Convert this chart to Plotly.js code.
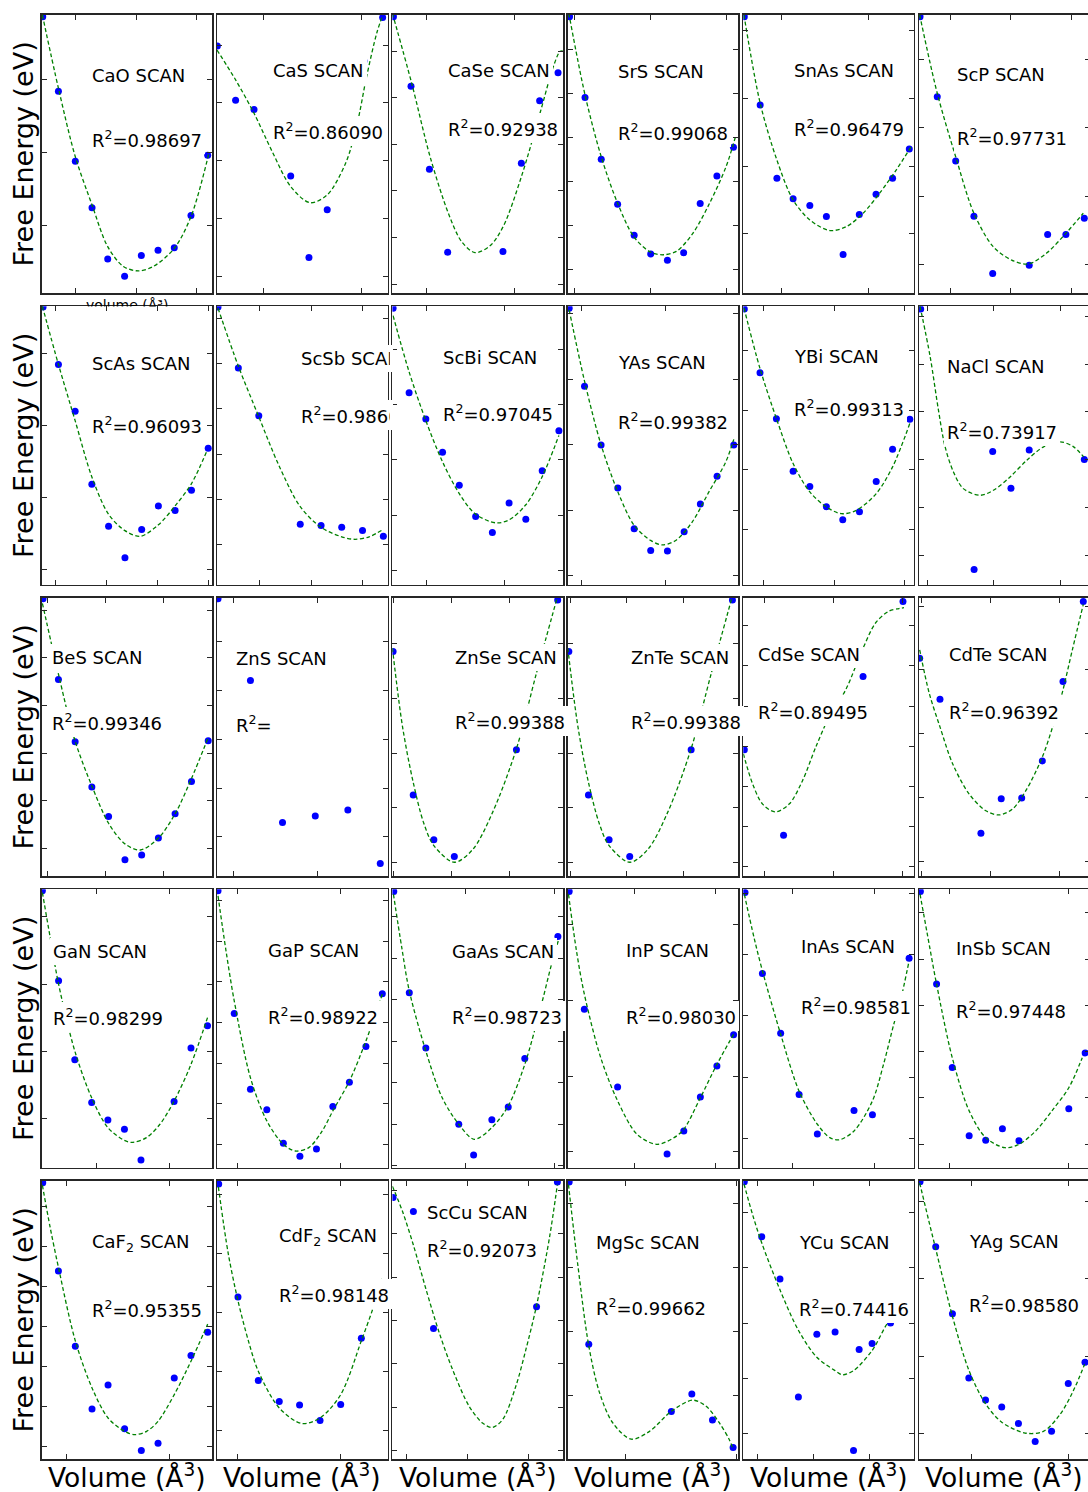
<!DOCTYPE html>
<html><head><meta charset="utf-8">
<script src="https://cdn.plot.ly/plotly-3.0.1.min.js"></script>
<style>html,body{margin:0;padding:0;background:#fff;overflow:hidden;width:1088px;height:1492px}#chart{width:1092px;height:1492px}</style>
</head><body><div id="chart"></div>
<script>
// ---------- labels ----------
const compounds = ['CaO','CaS','CaSe','SrS','SnAs','ScP',
  'ScAs','ScSb','ScBi','YAs','YBi','NaCl',
  'BeS','ZnS','ZnSe','ZnTe','CdSe','CdTe',
  'GaN','GaP','GaAs','InP','InAs','InSb',
  'CaF2','CdF2','ScCu','MgSc','YCu','YAg'];
const titleLabels = ['CaO SCAN','CaS SCAN','CaSe SCAN','SrS SCAN','SnAs SCAN','ScP SCAN',
  'ScAs SCAN','ScSb SCAN','ScBi SCAN','YAs SCAN','YBi SCAN','NaCl SCAN',
  'BeS SCAN','ZnS SCAN','ZnSe SCAN','ZnTe SCAN','CdSe SCAN','CdTe SCAN',
  'GaN SCAN','GaP SCAN','GaAs SCAN','InP SCAN','InAs SCAN','InSb SCAN',
  'CaF<sub>2</sub> SCAN','CdF<sub>2</sub> SCAN','ScCu SCAN','MgSc SCAN','YCu SCAN','YAg SCAN'];
const r2Values = ['0.98697','0.86090','0.92938','0.99068','0.96479','0.97731',
  '0.96093','0.9860','0.97045','0.99382','0.99313','0.73917',
  '0.99346','','0.99388','0.99388','0.89495','0.96392',
  '0.98299','0.98922','0.98723','0.98030','0.98581','0.97448',
  '0.95355','0.98148','0.92073','0.99662','0.74416','0.98580'];
const xAxisLabel = 'Volume (Å<sup>3</sup>)';
const yAxisLabel = 'Free Energy (eV)';
const smallVolumeLabel = 'volume (Å³)';

// ---------- data (relative volume / relative energy) ----------
const volCaO=[0.6,9.8,19.7,29.5,38.7,48.6,58.4,68.2,77.7,87.5,97.3];
const engCaO=[99.3,72.5,47.4,30.7,12.3,6.1,13.5,15.4,16.3,27.9,49.5];
const fitVolCaO=[0.4,9.8,19.7,29.5,38.7,47.9,56.6,65.4,77.7,87.5,98.0];
const fitEngCaO=[99.9,73.6,49.0,31.7,16.7,9.6,8.0,9.6,16.1,27.5,50.2];

const volCaS=[0.2,10.9,21.7,43.2,53.9,64.6,86.1,97.1];
const engCaS=[88.8,69.3,66.0,42.1,12.8,30.0,83.4,99.0];
const fitVolCaS=[0,10.9,21.7,32.4,43.2,54.5,64.6,75.4,81.8,87.7,93.6,97.5];
const fitEngCaS=[87.3,76.6,64.6,50.8,38.3,32.5,35.3,46.7,59.8,77.8,93.3,100.5];

const volCaSe=[0.6,10.9,21.7,32.4,64.8,75.6,86.3,97.1];
const engCaSe=[99.3,74.3,44.5,14.7,15.0,46.7,69.1,79.2];
const fitVolCaSe=[0,11.3,22.1,32.8,40.6,48.4,57.2,65.0,75.8,86.5,94.3,98.2,99.8];
const fitEngCaSe=[100.5,75.4,49.0,28.7,18.5,14.6,17.0,24.0,42.2,64.6,81.3,86.8,87.0];

const volSrS=[1.0,10.1,19.6,29.2,38.9,48.6,58.4,67.9,77.6,87.4,97.1];
const engSrS=[99.3,70.3,48.1,31.9,20.8,14.1,11.8,14.5,32.2,42.1,52.4];
const fitVolSrS=[0.6,10.1,19.6,29.2,38.9,48.6,55.8,63.6,73.3,83.1,92.8,98.2];
const fitEngSrS=[100.5,71.2,49.0,32.3,20.1,14.7,13.8,15.0,21.5,32.3,45.5,56.0];

const volSnAs=[0.6,9.9,19.7,29.2,39.0,48.7,58.5,68.0,77.8,87.5,97.3];
const engSnAs=[99.3,67.6,41.3,33.9,31.5,27.5,13.9,28.3,35.5,41.3,51.8];
const fitVolSnAs=[0.4,9.9,19.7,29.2,39.0,50.7,60.4,70.2,79.9,89.7,98.4];
const fitEngSnAs=[99.9,68.2,47.8,33.5,26.3,22.5,23.9,28.7,35.9,44.3,52.6];

const volScP=[0.6,10.7,21.5,32.2,43.2,64.6,75.4,86.1,96.9];
const engScP=[99.3,70.5,47.5,27.6,7.1,10.0,21.1,21.1,26.9];
const fitVolScP=[0.4,10.7,21.5,32.2,43.5,54.3,64.1,74.8,86.1,96.3];
const fitEngScP=[99.9,71.8,49.0,28.7,16.7,11.9,10.5,14.4,21.5,28.7];

const volScAs=[0.8,9.8,19.6,29.4,39.2,48.8,58.6,68.4,78.2,87.8,97.6];
const engScAs=[99.7,79.1,62.3,36.1,21.0,9.7,19.8,28.3,26.6,33.9,49.0];
const fitVolScAs=[0.4,9.8,19.6,29.4,39.2,48.8,57.8,68.4,78.2,87.8,97.1];
const fitEngScAs=[100,79.1,58.9,38.7,25.3,19.4,17.4,21.5,28.3,36.3,48.4];

const volScSb=[0.6,12.5,24.5,48.8,61.0,73.1,85.3,97.5];
const engScSb=[99.7,77.8,60.7,21.7,21.3,20.6,19.5,17.4];
const fitVolScSb=[0.6,12.5,24.5,36.3,48.8,61.0,73.1,80.9,89.2,97.5];
const fitEngScSb=[99.3,78.5,60.3,42.8,28.0,20.6,17.2,16.3,17.2,19.9];

const volScBi=[0.4,9.8,19.6,29.4,39.2,48.8,58.6,68.4,78.2,87.8,97.6];
const engScBi=[99.3,68.9,59.5,47.6,35.7,24.5,18.7,29.3,23.5,40.9,55.3];
const fitVolScBi=[0.4,9.8,19.6,29.4,39.2,48.8,60.8,68.4,78.2,87.8,97.6];
const fitEngScBi=[96.6,76.4,58.9,44.1,32.7,25.3,22.2,23.3,28.7,38.8,53.6];

const volYAs=[0.8,9.8,19.5,29.3,38.9,48.6,58.4,68.2,77.7,87.5,97.3];
const engYAs=[99.3,71.3,50.2,34.7,20.1,12.3,12.1,19.0,29.0,38.9,50.2];
const fitVolYAs=[0.8,9.8,19.5,29.3,38.9,48.6,55.5,63.3,73.0,82.8,92.6,97.3];
const fitEngYAs=[98.7,73.1,50.2,33.4,21.3,15.9,14.3,15.9,22.6,33.4,44.1,52.2];

const volYBi=[0.6,9.8,19.4,29.2,39.0,48.7,58.3,68.1,77.9,87.5,97.6];
const engYBi=[99.0,76.1,59.6,40.7,35.3,28.0,23.3,26.2,37.1,48.6,59.4];
const fitVolYBi=[0.4,9.8,19.4,29.2,39.0,48.7,57.5,66.3,77.9,87.5,97.6];
const fitEngYBi=[99.4,77.6,59.7,43.5,33.3,27.9,25.5,26.7,32.7,42.3,57.9];

const volNaCl=[1.0,32.3,43.2,53.9,64.6,96.9];
const engNaCl=[99.0,5.5,47.8,34.6,48.4,45.0];
const fitVolNaCl=[0.6,6.5,11.4,15.3,20.2,26.0,35.8,43.6,53.4,63.2,73.0,82.8,90.6,96.5];
const fitEngNaCl=[100,82.0,62.7,49.5,40.5,34.5,32.1,33.9,38.7,44.7,49.5,51.3,49.5,45.9];

const volBeS=[0.8,9.8,19.6,29.4,39.2,48.8,58.6,68.4,78.2,87.8,97.6];
const engBeS=[99.6,70.6,48.3,32.0,21.4,5.9,7.6,13.7,22.4,34.0,48.6];
const fitVolBeS=[0.4,9.8,19.6,29.4,39.2,48.8,57.8,68.4,78.2,87.8,97.6];
const fitEngBeS=[98.0,72.6,48.5,32.4,19.0,11.6,9.4,13.7,22.4,35.1,49.8];

const volZnS=[0.6,19.6,38.4,57.6,76.7,95.7];
const engZnS=[99.6,70.3,19.3,21.6,23.8,4.6];
const fitVolZnS=[];
const fitEngZnS=[];

const volZnSe=[0.4,12.2,24.3,36.3,72.7,96.9];
const engZnSe=[80.7,29.2,13.1,7.1,45.4,99.2];
const fitVolZnSe=[0,5.9,12.2,18.4,24.3,36.3,47.1,58.8,72.7,84.3,96.9];
const fitEngZnSe=[81.9,53.8,33.7,19.0,11.0,5.0,9.6,23.0,45.8,72.6,100.7];

const volZnTe=[0.6,12.1,24.2,36.3,72.3,96.5];
const engZnTe=[80.7,29.2,13.1,7.1,45.4,99.2];
const fitVolZnTe=[0,5.9,12.1,18.4,24.2,36.3,46.9,58.6,72.3,84.0,96.5];
const fitEngZnTe=[81.9,53.8,33.7,19.0,11.0,5.0,9.6,23.0,45.8,72.6,100.7];

const volCdSe=[0.6,23.6,46.8,70.2,93.6];
const engCdSe=[45.4,14.7,62.8,71.7,98.6];
const fitVolCdSe=[0,5.5,11.3,18.7,26.9,34.7,42.5,50.3,60.0,69.8,77.6,85.4,91.2,94.2];
const fitEngCdSe=[44.0,33.1,25.9,23.1,25.9,34.3,46.4,57.2,66.9,81.3,91.0,95.2,96.1,96.4];

const volCdTe=[0.4,12.3,36.3,48.2,60.2,72.3,84.4,96.3];
const engCdTe=[78.3,63.5,15.4,27.8,28.1,41.4,69.9,98.6];
const fitVolCdTe=[0.4,6.0,12.3,19.7,29.4,39.2,47.0,54.8,62.6,72.3,80.1,84.4,89.9,96.3];
const fitEngCdTe=[81.3,65.7,53.6,40.4,29.5,23.5,22.0,24.1,30.7,42.8,57.2,66.9,81.3,97.6];

const volGaN=[0.4,9.9,19.4,29.3,38.8,48.5,58.2,77.6,87.5,97.2];
const engGaN=[99.4,67.1,38.8,23.4,17.1,13.8,2.8,23.8,43.0,51.0];
const fitVolGaN=[0.4,5.0,9.9,19.4,29.3,38.8,48.5,53.5,61.4,69.3,77.6,87.5,97.2];
const fitEngGaN=[98.8,82.6,65.9,41.9,25.1,14.4,9.8,9.1,10.8,15.6,23.9,37.1,53.9];

const volGaP=[0.6,10.1,19.6,29.2,38.9,48.6,58.3,67.9,77.6,87.3,96.9];
const engGaP=[99.4,55.4,28.2,20.8,8.8,4.1,6.7,22.0,30.7,43.5,62.5];
const fitVolGaP=[0.6,5.3,10.1,19.6,29.2,38.9,45.8,53.8,61.7,67.9,77.6,87.3,96.9];
const fitEngGaP=[97.6,77.8,59.9,32.3,16.8,8.4,6.0,7.2,13.2,20.4,31.1,45.5,62.3];

const volGaAs=[0.8,9.9,19.6,38.9,47.6,58.3,67.9,77.6,97.0];
const engGaAs=[99.2,62.8,43.0,15.6,4.6,17.2,21.8,39.2,83.0];
const fitVolGaAs=[0.6,5.5,9.9,19.6,29.2,38.9,48.0,58.3,67.9,77.6,87.4,93.3,97.2];
const fitEngGaAs=[98.2,79.0,63.5,41.9,25.1,15.6,10.2,14.4,22.2,37.1,58.7,73.1,81.4];

const volInP=[0.8,9.7,29.2,58.2,68.0,77.7,87.4,97.2];
const engInP=[99.2,56.9,29.0,4.9,13.2,25.4,36.5,47.7];
const fitVolInP=[0.4,5.1,9.7,19.3,29.2,40.6,52.1,62.3,68.0,77.7,87.4,97.2];
const fitEngInP=[98.2,77.8,62.3,39.5,24.0,12.0,8.4,10.8,13.8,25.1,37.1,47.9];

const volInAs=[1.0,11.2,21.9,32.7,43.4,64.9,75.7,97.2];
const engInAs=[98.8,69.7,48.3,26.3,12.1,20.5,19.0,75.2];
const fitVolInAs=[0.6,6.3,11.2,21.9,32.7,43.4,50.7,56.2,64.9,75.7,82.2,88.2,92.1,97.2];
const fitEngInAs=[98.2,82.6,70.7,47.9,27.5,15.6,10.8,10.0,13.2,24.0,37.1,51.5,59.9,74.3];

const volInSb=[0.8,10.3,19.5,29.4,39.1,48.9,58.6,87.8,97.4];
const engInSb=[99.2,66.0,36.0,11.5,9.9,14.0,9.7,21.2,41.2];
const fitVolInSb=[0.6,4.9,10.3,19.5,29.4,39.1,50.3,58.6,68.4,77.9,87.8,95.7];
const fitEngInSb=[98.2,83.8,65.9,39.5,20.4,10.8,7.2,8.4,13.2,20.4,28.7,39.5];

const volCaF2=[0.6,9.8,19.7,29.5,38.9,48.6,58.4,68.2,77.7,87.5,97.3];
const engCaF2=[99.3,67.6,40.6,18.0,26.6,10.9,3.1,5.7,29.2,37.2,45.6];
const fitVolCaF2=[0.4,4.9,9.8,19.7,29.5,38.9,48.6,54.5,61.5,68.2,77.7,87.5,97.3];
const fitEngCaF2=[98.4,83.4,68.9,42.5,25.6,14.8,10.0,8.8,10.0,13.6,23.2,35.2,48.5];

const volCdF2=[1.0,12.3,24.2,36.5,48.4,60.4,72.5,84.6,96.9];
const engCdF2=[98.8,58.2,28.3,20.7,19.5,13.9,19.6,43.4,63.3];
const fitVolCdF2=[0.8,6.6,12.3,18.4,24.2,36.5,49.8,60.4,72.5,84.6,91.6,96.9];
const fitEngCdF2=[97.8,73.8,56.9,42.5,31.6,18.4,12.8,14.8,23.2,42.5,54.5,65.3];

const volScCu=[0.4,12.3,24.1,84.5,96.7];
const engScCu=[94.0,88.9,46.9,54.7,99.5];
const fitVolScCu=[0,5.9,12.3,19.6,27.4,35.2,45.0,52.8,58.3,64.6,72.4,78.3,84.5,92.0,96.7];
const fitEngScCu=[98.0,89.0,76.9,61.2,45.5,32.3,19.0,13.0,11.4,14.2,26.3,39.5,55.2,79.3,98.6];

const volMgSc=[0.8,12.3,60.7,72.7,84.8,96.9];
const engMgSc=[99.5,41.3,17.1,23.4,14.1,4.2];
const fitVolMgSc=[0.4,5.9,12.3,18.6,26.4,37.1,47.9,60.7,73.2,81.1,88.9,94.7,96.9];
const fitEngMgSc=[98.6,69.6,40.7,23.9,13.0,7.2,10.0,17.2,21.2,19.0,13.0,7.0,3.4];

const volYCu=[0.6,10.8,21.5,32.3,43.1,53.8,64.6,67.9,75.5,86.3];
const engYCu=[99.6,79.9,64.7,22.3,44.9,45.7,3.1,39.4,41.5,48.9];
const fitVolYCu=[0.4,5.7,10.8,21.5,32.3,43.1,53.8,58.1,64.6,75.5,86.3,89.4];
const fitEngYCu=[98.8,87.3,77.7,60.8,46.3,36.6,31.8,30.3,31.8,39.0,49.9,49.2];

const volYAg=[0.6,9.8,19.6,29.2,39.0,48.5,58.3,68.1,77.7,87.5,97.3];
const engYAg=[99.6,76.3,52.2,29.2,21.3,18.7,12.8,6.4,10.0,27.2,34.8];
const fitVolYAg=[0.4,5.5,9.8,19.6,29.2,39.0,48.5,62.2,72.9,82.7,90.4,97.1];
const fitEngYAg=[99.2,86.2,75.5,51.3,32.0,19.9,13.3,9.4,10.0,16.1,24.5,34.1];

const volumes=[volCaO,volCaS,volCaSe,volSrS,volSnAs,volScP,volScAs,volScSb,volScBi,volYAs,volYBi,volNaCl,
  volBeS,volZnS,volZnSe,volZnTe,volCdSe,volCdTe,volGaN,volGaP,volGaAs,volInP,volInAs,volInSb,
  volCaF2,volCdF2,volScCu,volMgSc,volYCu,volYAg];
const energies=[engCaO,engCaS,engCaSe,engSrS,engSnAs,engScP,engScAs,engScSb,engScBi,engYAs,engYBi,engNaCl,
  engBeS,engZnS,engZnSe,engZnTe,engCdSe,engCdTe,engGaN,engGaP,engGaAs,engInP,engInAs,engInSb,
  engCaF2,engCdF2,engScCu,engMgSc,engYCu,engYAg];
const fitVols=[fitVolCaO,fitVolCaS,fitVolCaSe,fitVolSrS,fitVolSnAs,fitVolScP,fitVolScAs,fitVolScSb,fitVolScBi,fitVolYAs,fitVolYBi,fitVolNaCl,
  fitVolBeS,fitVolZnS,fitVolZnSe,fitVolZnTe,fitVolCdSe,fitVolCdTe,fitVolGaN,fitVolGaP,fitVolGaAs,fitVolInP,fitVolInAs,fitVolInSb,
  fitVolCaF2,fitVolCdF2,fitVolScCu,fitVolMgSc,fitVolYCu,fitVolYAg];
const fitEngs=[fitEngCaO,fitEngCaS,fitEngCaSe,fitEngSrS,fitEngSnAs,fitEngScP,fitEngScAs,fitEngScSb,fitEngScBi,fitEngYAs,fitEngYBi,fitEngNaCl,
  fitEngBeS,fitEngZnS,fitEngZnSe,fitEngZnTe,fitEngCdSe,fitEngCdTe,fitEngGaN,fitEngGaP,fitEngGaAs,fitEngInP,fitEngInAs,fitEngInSb,
  fitEngCaF2,fitEngCdF2,fitEngScCu,fitEngMgSc,fitEngYCu,fitEngYAg];

// tick settings per panel: [x tick0, x dtick, y tick0, y dtick]
const tickSpec=[
 [20.1,35.2,24.4,26.1],[27.1,57.7,6.1,20.75],[20.1,51.4,3.3,16.7],[3.9,44.5,8.6,15.8],[22.4,50.7,21.3,24.3],[18.2,35.7,10.4,24.5],
 [7.9,29.9,5.5,25.8],[24.9,30.2,14.4,16.25],[20.0,45.9,5.2,19.8],[7.8,49.2,3.2,23.55],[12.1,41.1,19.8,21.4],[4.9,39,10.6,17.15],
 [3.3,33.9,10.0,17.1],[9.8,49.2,14.1,17.5],[0.8,33.9,5.0,19.6],[1.4,33.2,5.0,19.6],[12.3,40.45,3.5,14.4],[1.7,40.4,5.4,22.9],
 [31.9,43.0,17.6,24.15],[12.3,60.0,8.3,14.6],[42.7,52.2,0.7,14.9],[39.1,47.5,5.7,27.2],[29.0,47.7,10.5,22.0],[17.8,70.0,8.5,16.6],
 [14.6,60.2,4.6,14.35],[11.9,60.6,10.2,21.2],[8.2,35.8,3.0,15.6],[33.6,65.0,0.1,22.9],[8.6,32.6,9.1,19.9],[30.9,56.8,9.2,27.8]];
// label placement inside each panel: [left x, title y, R2 y] (fractions of the panel)
const labelPos=[
 [0.295,0.783,0.554],[0.329,0.799,0.583],[0.326,0.801,0.594],[0.297,0.795,0.580],[0.296,0.799,0.592],[0.225,0.787,0.560],
 [0.297,0.795,0.574],[0.490,0.812,0.611],[0.297,0.815,0.615],[0.295,0.799,0.587],[0.298,0.821,0.635],[0.166,0.783,0.553],
 [0.062,0.784,0.555],[0.111,0.780,0.548],[0.367,0.784,0.556],[0.369,0.784,0.556],[0.085,0.797,0.594],[0.178,0.797,0.594],
 [0.064,0.776,0.540],[0.297,0.779,0.544],[0.350,0.778,0.546],[0.344,0.779,0.546],[0.337,0.794,0.579],[0.217,0.788,0.565],
 [0.295,0.777,0.538],[0.364,0.799,0.593],[0.200,0.885,0.754],[0.168,0.777,0.547],[0.327,0.777,0.544],[0.295,0.783,0.557]];

// ---------- geometry ----------
const W=1092, H=1492;
const colLeft=[41.7,217.0,392.4,567.8,743.3,919.0];
const rowTop=[14.7,306.2,597.7,889.2,1180.7];
const pw=170.6, ph=278.5;
const FONT='DejaVu Sans';
const spine='#262626';

const traces=[]; const layout={
  width:W,height:H,margin:{l:0,r:0,t:0,b:0},paper_bgcolor:'#fff',plot_bgcolor:'#fff',
  showlegend:false,font:{family:FONT,color:'#000'},annotations:[]
};

for(let i=0;i<30;i++){
  const r=Math.floor(i/6), c=i%6, n=i===0?'':String(i+1);
  const L=colLeft[c], T=rowTop[r];
  const ts=tickSpec[i];
  const common={showline:true,linecolor:spine,linewidth:1.5,mirror:'ticks',ticks:'inside',ticklen:5,tickwidth:1,
    tickcolor:spine,showticklabels:false,showgrid:false,zeroline:false,range:[0,100],tickmode:'linear',fixedrange:true};
  layout['xaxis'+n]=Object.assign({},common,{domain:[L/W,(L+pw)/W],anchor:'y'+n,tick0:ts[0],dtick:ts[1]});
  layout['yaxis'+n]=Object.assign({},common,{domain:[1-(T+ph)/H,1-T/H],anchor:'x'+n,tick0:ts[2],dtick:ts[3]});
  traces.push({type:'scatter',mode:'markers',x:volumes[i],y:energies[i],xaxis:'x'+n,yaxis:'y'+n,
    marker:{color:'#0000ff',size:7,line:{width:0}},cliponaxis:true,hoverinfo:'skip'});
  if(fitVols[i].length){
    traces.push({type:'scatter',mode:'lines',x:fitVols[i],y:fitEngs[i],xaxis:'x'+n,yaxis:'y'+n,
      line:{color:'#008000',width:1.3,dash:'4px,2.5px',shape:'spline',smoothing:0.9},hoverinfo:'skip'});
  }
  const lp=labelPos[i];
  const base={xref:'x'+n+' domain',yref:'y'+n+' domain',xanchor:'left',yanchor:'middle',showarrow:false,
    font:{family:FONT,size:18,color:'#000'},bgcolor:'#ffffff',borderpad:3,borderwidth:0,align:'left',xshift:-3};
  const a1=Object.assign({},base,{x:lp[0],y:lp[1],text:titleLabels[i]});
  const a2=Object.assign({},base,{x:lp[0],y:lp[2],text:'R<sup>2</sup>='+r2Values[i]});
  // text that runs under the neighbouring panel is cut at that panel's edge
  const textLeft=L+lp[0]*pw;
  if(c<5){
    const limit=colLeft[c+1]-textLeft-3;
    if(limit<100){a1.width=limit;a2.width=limit;}
  }
  layout.annotations.push(a1,a2);
}
// row labels
for(let r=0;r<5;r++){
  layout.annotations.push({xref:'paper',yref:'paper',x:23.5/W,y:1-(rowTop[r]+ph/2)/H,xanchor:'center',yanchor:'middle',
    text:yAxisLabel,textangle:-90,showarrow:false,font:{family:FONT,size:27,color:'#000'}});
}
// column labels
for(let c=0;c<6;c++){
  layout.annotations.push({xref:'paper',yref:'paper',x:(colLeft[c]+pw/2)/W,y:1-1475.5/H,xanchor:'center',yanchor:'middle',
    text:xAxisLabel,showarrow:false,font:{family:FONT,size:26.5,color:'#000'}});
}
// small label under the first panel, its lower half hidden by the next row
layout.annotations.push({xref:'paper',yref:'paper',x:(colLeft[0]+pw/2)/W,y:1-297/H,xanchor:'center',yanchor:'top',
  text:smallVolumeLabel,showarrow:false,height:9.5,valign:'top',borderpad:0,borderwidth:0,
  font:{family:FONT,size:14,color:'#000'}});

Plotly.newPlot('chart',traces,layout,{displayModeBar:false,staticPlot:true});
</script></body></html>
